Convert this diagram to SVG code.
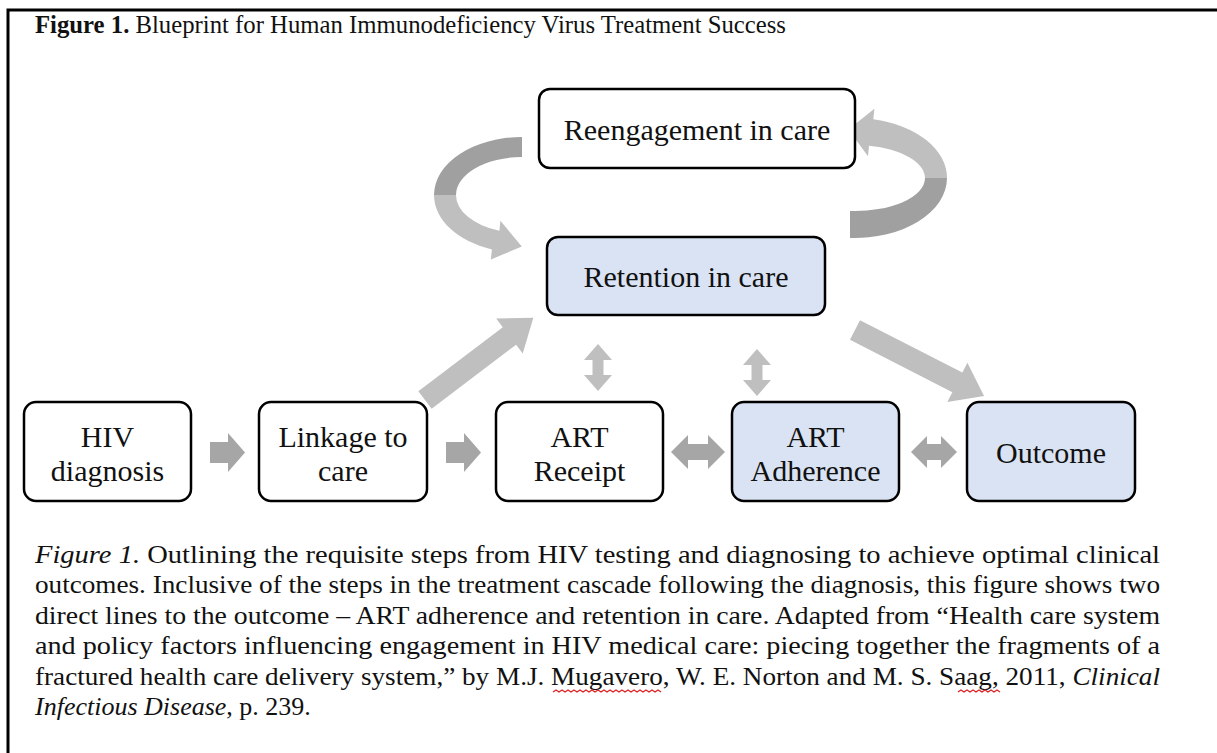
<svg xmlns="http://www.w3.org/2000/svg" width="1217" height="753" viewBox="0 0 1217 753">
<style>
.frame{stroke:#000;stroke-width:3;fill:none}
.box{stroke:#000;stroke-width:2.5;fill:#fff}
.blue{fill:#dae3f3}
.nt{font-family:"Liberation Serif","Times New Roman",serif;font-size:30px;fill:#111;text-anchor:middle}
.cap{font-family:"Liberation Serif","Times New Roman",serif;font-size:26px;fill:#111}
.title{font-family:"Liberation Serif","Times New Roman",serif;font-size:26px;fill:#111}
.ar{fill:#a6a6a6}
.al{fill:#bfbfbf}
.ad{fill:#a0a0a0}
.sq{fill:none;stroke:#e02020;stroke-width:1.3}
</style>
<rect width="1217" height="753" fill="#fff"/>
<path class="frame" d="M8,753 V10 H1217"/>
<text class="title" x="35" y="33" textLength="751" lengthAdjust="spacingAndGlyphs"><tspan font-weight="bold">Figure 1.</tspan> Blueprint for Human Immunodeficiency Virus Treatment Success</text>

<g id="connectors">
  <path class="ad" d="M522,137 A88,58 0 0 0 434,195 L456,195 A66,38 0 0 1 522,157 Z"/>
  <path class="al" d="M434,195 A88,58 0 0 0 491.9,249.5 L490.8,259.5 L521.8,246.6 L500.4,220.7 L499.4,230.7 A66,38 0 0 1 456,195 Z"/>
  <path class="al" d="M873.3,119.2 A92,60 0 0 1 947,178 L925,178 A70,33 0 0 0 869,145.7 L868,156.3 L848.4,129.5 L874.4,108.7 Z"/>
  <path class="ad" d="M947,178 A92,60 0 0 1 850,237.9 L850,210.9 A70,33 0 0 0 925,178 Z"/>
  <path class="al" transform="translate(425,400) rotate(-37.2)" d="M0,-11 H106 V-22 L136,0 L106,22 V11 H0 Z"/>
  <path class="al" transform="translate(855,330) rotate(27.1)" d="M0,-11 H115 V-22 L145,0 L115,22 V11 H0 Z"/>
  <path class="al" d="M598,344 L612,360 H603.5 V375 H612 L598,391 L584,375 H592.5 V360 H584 Z"/>
  <path class="al" d="M757,349 L771,365 H762.5 V380 H771 L757,396 L743,380 H751.5 V365 H743 Z"/>
  <path class="ar" d="M210,442 H228 V433 L245,452.5 L228,472 V463 H210 Z"/>
  <path class="ar" d="M446,442 H464 V433 L481,452.5 L464,472 V463 H446 Z"/>
  <path class="ar" d="M671,452 L688,435 V444 H708 V435 L725,452 L708,469 V460 H688 V469 Z"/>
  <path class="ar" d="M911,452 L927,436 V444 H941 V436 L957,452 L941,468 V460 H927 V468 Z"/>
</g>

<g id="reengagement">
  <rect class="box" x="539" y="89" width="316" height="79" rx="11"/>
  <text class="nt" x="697" y="140">Reengagement in care</text>
</g>
<g id="retention">
  <rect class="box blue" x="547" y="237" width="278" height="78" rx="11"/>
  <text class="nt" x="686" y="287">Retention in care</text>
</g>
<g id="hiv-diagnosis">
  <rect class="box" x="24" y="402" width="167" height="99" rx="12"/>
  <text class="nt" x="107.5" y="447">HIV</text>
  <text class="nt" x="107.5" y="481">diagnosis</text>
</g>
<g id="linkage">
  <rect class="box" x="259" y="402" width="168" height="99" rx="12"/>
  <text class="nt" x="343" y="447">Linkage to</text>
  <text class="nt" x="343" y="481">care</text>
</g>
<g id="art-receipt">
  <rect class="box" x="496" y="402" width="167" height="99" rx="12"/>
  <text class="nt" x="579.5" y="447">ART</text>
  <text class="nt" x="579.5" y="481">Receipt</text>
</g>
<g id="art-adherence">
  <rect class="box blue" x="732" y="402" width="167" height="99" rx="12"/>
  <text class="nt" x="815.5" y="447">ART</text>
  <text class="nt" x="815.5" y="481">Adherence</text>
</g>
<g id="outcome">
  <rect class="box blue" x="967" y="402" width="168" height="99" rx="12"/>
  <text class="nt" x="1051" y="463">Outcome</text>
</g>

<g id="caption">
  <text class="cap" x="35" y="563" textLength="1125" lengthAdjust="spacingAndGlyphs"><tspan font-style="italic">Figure 1.</tspan> Outlining the requisite steps from HIV testing and diagnosing to achieve optimal clinical</text>
  <text class="cap" x="35" y="593" textLength="1125" lengthAdjust="spacingAndGlyphs">outcomes. Inclusive of the steps in the treatment cascade following the diagnosis, this figure shows two</text>
  <text class="cap" x="35" y="624" textLength="1125" lengthAdjust="spacingAndGlyphs">direct lines to the outcome – ART adherence and retention in care. Adapted from “Health care system</text>
  <text class="cap" x="35" y="654" textLength="1125" lengthAdjust="spacingAndGlyphs">and policy factors influencing engagement in HIV medical care: piecing together the fragments of a</text>
  <text class="cap" x="35" y="685" textLength="1125" lengthAdjust="spacingAndGlyphs">fractured health care delivery system,” by M.J. Mugavero, W. E. Norton and M. S. Saag, 2011, <tspan font-style="italic">Clinical</tspan></text>
  <text class="cap" x="35" y="715"><tspan font-style="italic">Infectious Disease</tspan>, p. 239.</text>
  <path class="sq" d="M553,692 l3,-2 l3,2 l3,-2 l3,2 l3,-2 l3,2 l3,-2 l3,2 l3,-2 l3,2 l3,-2 l3,2 l3,-2 l3,2 l3,-2 l3,2 l3,-2 l3,2 l3,-2 l3,2 l3,-2 l3,2 l3,-2 l3,2 l3,-2 l3,2 l3,-2 l3,2 l3,-2 l3,2 l3,-2 l3,2 l3,-2 l3,2 l3,-2 l3,2"/>
  <path class="sq" d="M958,692 l3,-2 l3,2 l3,-2 l3,2 l3,-2 l3,2 l3,-2 l3,2 l3,-2 l3,2 l3,-2 l3,2 l3,-2 l3,2"/>
</g>
</svg>
